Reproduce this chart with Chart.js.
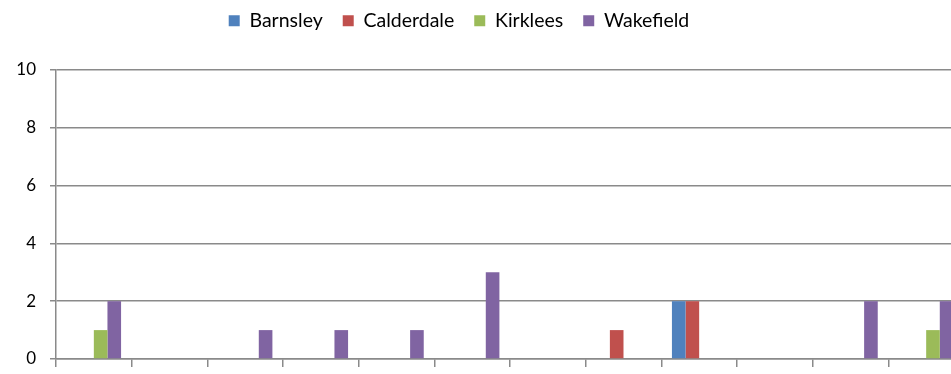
<!DOCTYPE html>
<html lang="en">
<head>
    <meta charset="UTF-8">
    <title>Contagem por distrito</title>
    <script src="https://cdn.jsdelivr.net/npm/chart.js"></script>
    <style>
        body { margin: 0; background: #fff; overflow: hidden; }
        #wrap { width: 970px; height: 374px; }
    </style>
</head>
<body>
    <div id="wrap">
        <canvas id="barChart" width="970" height="374"></canvas>
    </div>

    <script>
        // categorias do eixo x (sem rótulos visíveis)
        const categories = ['', '', '', '', '', '', '', '', '', '', '', ''];

        const barnsley   = [0, 0, 0, 0, 0, 0, 0, 0, 2, 0, 0, 0];
        const calderdale = [0, 0, 0, 0, 0, 0, 0, 1, 2, 0, 0, 0];
        const kirklees   = [1, 0, 0, 0, 0, 0, 0, 0, 0, 0, 0, 1];
        const wakefield  = [2, 0, 1, 1, 1, 3, 0, 0, 0, 0, 2, 2];

        const yTicks = [0, 2, 4, 6, 8, 10];

        const gridColor = '#8a8a8a';
        const fontFamily = 'Lato, "Open Sans", sans-serif';

        // legenda com altura fixa e deslocada (o canvas é mais largo que a janela)
        const legendPlace = {
            id: 'legendPlace',
            beforeLayout(chart) {
                const lg = chart.legend;
                if (lg && !lg._origFit) {
                    lg._origFit = lg.fit;
                    lg.fit = function () {
                        this._origFit();
                        this.height = 70;
                    };
                }
            },
            afterLayout(chart) {
                const lg = chart.legend;
                lg.left -= 23;
                lg.right -= 23;
                lg.top -= 9;
                lg.bottom -= 9;
            }
        };

        const ctx = document.getElementById('barChart').getContext('2d');

        new Chart(ctx, {
            type: 'bar',
            data: {
                labels: categories,
                datasets: [
                    { label: 'Barnsley', data: barnsley, backgroundColor: '#4F81BD' },
                    { label: 'Calderdale', data: calderdale, backgroundColor: '#C0504D' },
                    { label: 'Kirklees', data: kirklees, backgroundColor: '#9BBB59' },
                    { label: 'Wakefield', data: wakefield, backgroundColor: '#8064A2' }
                ]
            },
            options: {
                responsive: false,
                animation: false,
                categoryPercentage: 0.72,
                barPercentage: 1.0,
                layout: { padding: { top: 0, right: 6, left: 0, bottom: 0 } },
                plugins: {
                    legend: {
                        position: 'top',
                        labels: {
                            boxWidth: 11,
                            boxHeight: 11,
                            padding: 20,
                            color: '#000',
                            font: { family: fontFamily, size: 19.5 }
                        }
                    },
                    tooltip: { enabled: false }
                },
                scales: {
                    x: {
                        afterFit(scale) { scale.height = 15; },
                        grid: {
                            offset: true,
                            drawOnChartArea: false,
                            drawTicks: true,
                            tickLength: 8,
                            color: gridColor,
                            lineWidth: 1.5
                        },
                        border: { color: gridColor, width: 1.5 },
                        ticks: { display: false }
                    },
                    y: {
                        min: 0,
                        max: 10,
                        afterFit(scale) {
                            scale.width = 56;
                            scale.paddingTop = 0;
                            scale.paddingBottom = 0;
                        },
                        afterBuildTicks(scale) {
                            scale.ticks = yTicks.map(v => ({ value: v }));
                        },
                        grid: {
                            color: gridColor,
                            lineWidth: 1.5,
                            tickLength: 6
                        },
                        border: { color: gridColor, width: 1.5 },
                        ticks: {
                            padding: 14,
                            color: '#000',
                            font: { family: fontFamily, size: 17 }
                        }
                    }
                }
            },
            plugins: [legendPlace]
        });
    </script>
</body>
</html>
